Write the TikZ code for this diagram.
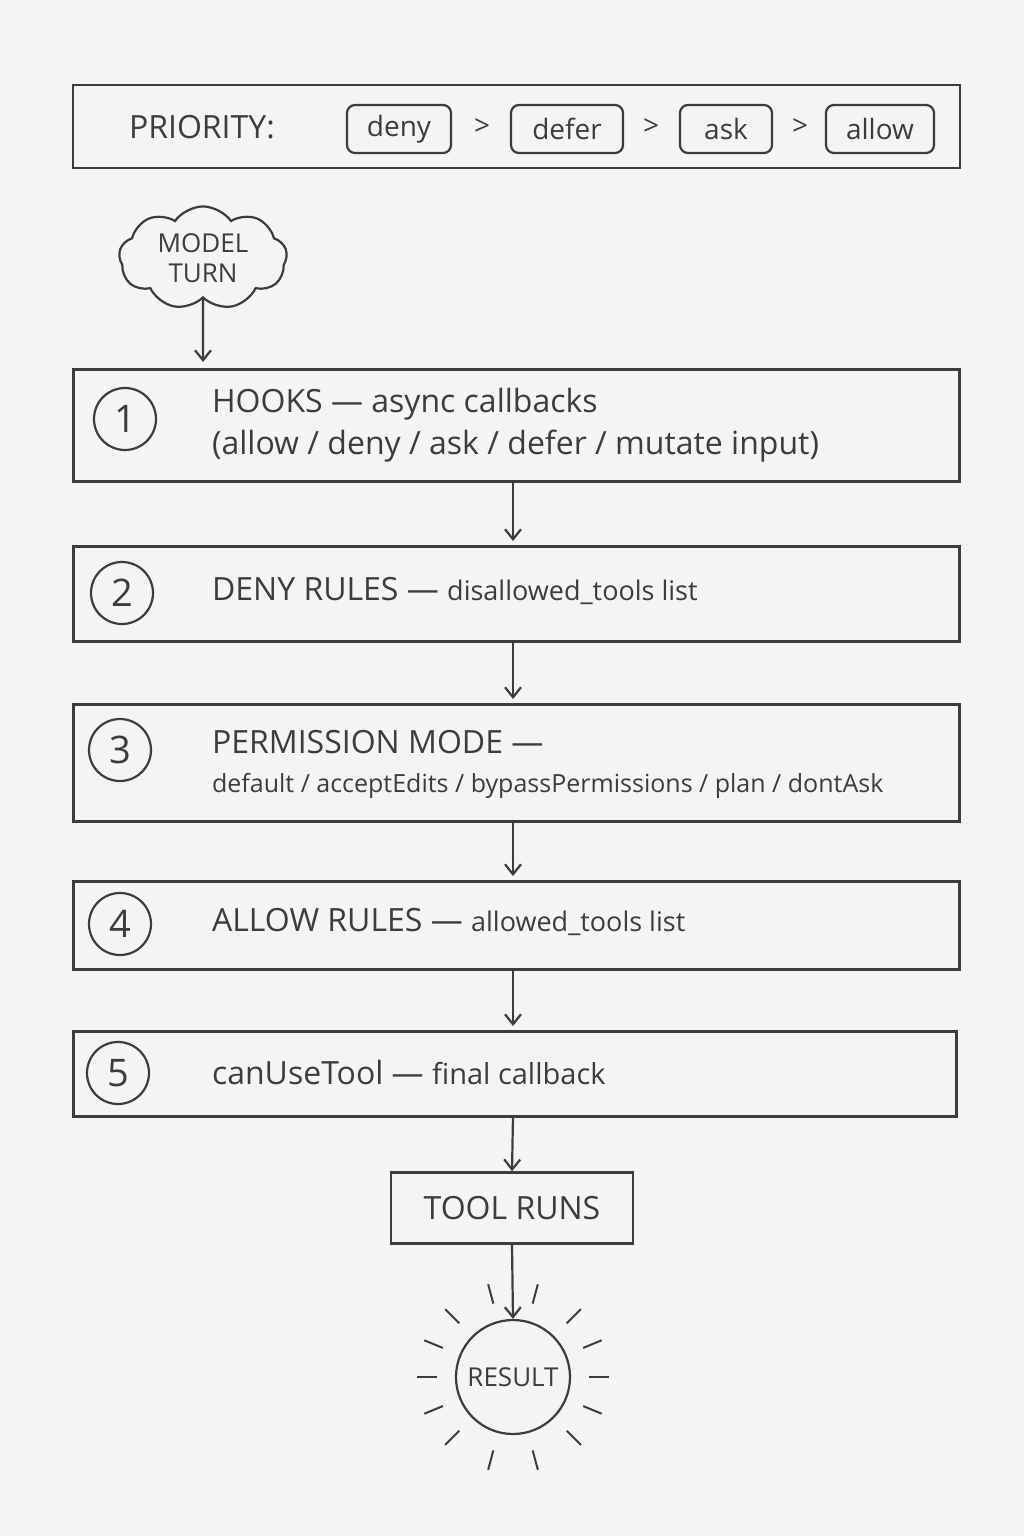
\documentclass[tikz,border=0pt]{standalone}
\usepackage{fontspec}
\setmainfont{Open Sans}
\usetikzlibrary{shapes.symbols, positioning, arrows.meta}
\definecolor{ink}{RGB}{60,60,60}
\definecolor{paper}{RGB}{244,244,242}
\tikzset{
  stage/.style={draw=ink, line width=1.3pt, minimum width=443pt, anchor=north west, inner sep=0pt},
  tag/.style={draw=ink, line width=1.1pt, rounded corners=4pt, minimum height=24pt, font=\fontsize{14}{16}\selectfont, text=ink},
  gt/.style={font=\fontsize{14}{16}\selectfont, text=ink},
  num/.style={circle, draw=ink, line width=1.1pt, minimum size=31pt, font=\fontsize{19}{20}\selectfont, text=ink},
  head/.style={anchor=west, font=\fontsize{16}{18}\selectfont, text=ink},
  sub/.style={anchor=west, font=\fontsize{12.5}{14}\selectfont, text=ink},
  flow/.style={-{Straight Barb[length=5pt, width=8pt]}, draw=ink, line width=1.1pt}
}
\begin{document}
\begin{tikzpicture}[x=0.5pt, y=-0.5pt]
  \fill[paper] (0,0) rectangle (1024,1536);
  \useasboundingbox (0,0) rectangle (1024,1536);
  % priority bar
  \draw[ink, line width=1.3pt] (73,85) rectangle (960,168);
  \node[head] (prio) at (122,127) {PRIORITY:};
  \node[tag, minimum width=52pt] (deny) at (399,129) {deny};
  \node[tag, minimum width=56pt] (defer) at (567,129) {defer};
  \node[tag, minimum width=46pt] (ask) at (726,129) {ask};
  \node[tag, minimum width=54pt] (allow) at (880,129) {allow};
  \node[gt] at (482,127) {>};
  \node[gt] at (651,127) {>};
  \node[gt] at (800,127) {>};
  % model turn
  \node[cloud, draw=ink, line width=1.1pt, cloud puffs=9, cloud puff arc=110, aspect=1.5, inner sep=0pt,
        minimum width=84pt, minimum height=46pt,
        align=center, font=\fontsize{13}{15}\selectfont, text=ink] (turn) at (203,258) {MODEL\\TURN};
  % stages
  \node[stage, minimum height=56pt] (hooks) at (72,368) {};
  \node[num] (n1) at (125,419) {1};
  \node[head] at (205,404) {HOOKS --- async callbacks};
  \node[head] at (205,446) {(allow / deny / ask / defer / mutate input)};
  \node[stage, minimum height=47.5pt] (deny rules) at (72,545) {};
  \node[num] (n2) at (122,593) {2};
  \node[head] at (205,591) {DENY RULES --- \fontsize{13.5}{15}\selectfont disallowed\_tools list};
  \node[stage, minimum height=58.5pt] (mode) at (72,703) {};
  \node[num] (n3) at (120,750) {3};
  \node[head] at (205,742) {PERMISSION MODE ---};
  \node[sub] at (205,786) {default / acceptEdits / bypassPermissions / plan / dontAsk};
  \node[stage, minimum height=44pt] (allow rules) at (72,880) {};
  \node[num] (n4) at (120,924) {4};
  \node[head] at (205,922) {ALLOW RULES --- \fontsize{13.5}{15}\selectfont allowed\_tools list};
  \node[stage, minimum height=42.5pt, minimum width=441.5pt] (callback) at (72,1030) {};
  \node[num] (n5) at (118,1073) {5};
  \node[head] at (205,1072) {canUseTool --- \fontsize{14.5}{16}\selectfont final callback};
  \node[draw=ink, line width=1.3pt, minimum width=121pt, minimum height=35.5pt, font=\fontsize{16}{18}\selectfont, text=ink] (runs) at (512,1208) {TOOL RUNS};
  \node[circle, draw=ink, line width=1.1pt, minimum size=57pt, font=\fontsize{13}{15}\selectfont, text=ink] (result) at (513,1377) {RESULT};
  \foreach \a in {0,22.5,45,75,105,135,157.5,180,202.5,225,255,285,315,337.5}
    \draw[ink, line width=1pt] (result.center) ++(\a:76) -- ++(\a:20);
  % arrows
  \draw[flow] (turn.south) -- (203,362);
  \draw[flow] (513,481) -- (513,541);
  \draw[flow] (513,641) -- (513,699);
  \draw[flow] (513,821) -- (513,876);
  \draw[flow] (513,969) -- (513,1026);
  \draw[flow] (513,1116) -- (runs.north);
  \draw[flow] (runs.south) -- (result.north);
\end{tikzpicture}
\end{document}
